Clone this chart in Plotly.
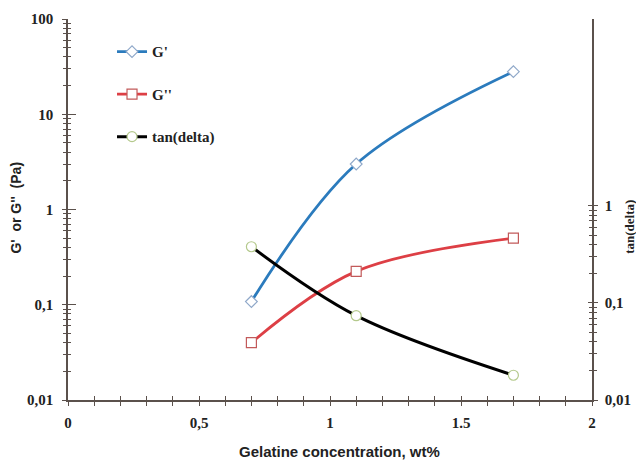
import plotly.graph_objects as go

conc = [0.7, 1.1, 1.7]
g_storage = [0.108, 3.0, 28.0]
g_loss = [0.040, 0.224, 0.50]
tan_delta = [0.38, 0.074, 0.018]

x_tickvals = [0, 0.5, 1, 1.5, 2]
x_ticktext = ["0", "0,5", "1", "1.5", "2"]
y_tickvals = [0.01, 0.1, 1, 10, 100]
y_ticktext = ["0,01", "0,1", "1", "10", "100"]
y2_tickvals = [0.01, 0.1, 1]
y2_ticktext = ["0,01", "0,1", "1"]

minor_left = [m * 10.0 ** e for e in range(-2, 2) for m in range(2, 10)]
minor_right = [m * 10.0 ** e for e in range(-2, 0) for m in range(2, 10)]

AX = "#5b514c"
serif = dict(family="Liberation Serif", size=15, color="#222", weight="bold")
sans = dict(family="Liberation Sans", size=15, color="#222", weight="bold")

fig = go.Figure()
fig.add_trace(go.Scatter(
    x=conc, y=g_storage, name="G'", mode="lines+markers", line_shape="spline",
    line=dict(color="#2b7bbd", width=2.8), legendgroup="a",
    marker=dict(symbol="diamond", size=9, color="white", line=dict(color="#8fa8c9", width=1.2))))
fig.add_trace(go.Scatter(
    x=conc, y=g_loss, name="G''", mode="lines+markers", line_shape="spline",
    line=dict(color="#dd3f45", width=2.8), legendgroup="b",
    marker=dict(symbol="square", size=10, color="white", line=dict(color="#c25a5a", width=1.2))))
fig.add_trace(go.Scatter(
    x=conc, y=tan_delta, name="tan(delta)", mode="lines+markers", line_shape="spline",
    line=dict(color="black", width=3), yaxis="y2", legendgroup="c",
    marker=dict(symbol="circle", size=10, color="white", line=dict(color="#b4c98c", width=1.2))))
# overlay axes for crossing ticks
fig.add_trace(go.Scatter(x=[], y=[], xaxis="x3", yaxis="y3", showlegend=False))
fig.add_trace(go.Scatter(x=[], y=[], xaxis="x3", yaxis="y4", showlegend=False))

top2 = 1.927
fig.update_layout(
    width=636, height=454,
    margin=dict(l=60, r=52, t=11, b=62),
    paper_bgcolor="white", plot_bgcolor="white",
    showlegend=True,
    legend=dict(x=0.084, y=0.957, xanchor="left", yanchor="top", bgcolor="rgba(0,0,0,0)",
                font=serif, tracegroupgap=20, itemwidth=30),
    xaxis=dict(range=[0, 2], tickvals=x_tickvals, ticktext=x_ticktext, tickfont=serif,
               automargin=False, ticklabelstandoff=4,
               showgrid=False, zeroline=False, showline=True, linecolor=AX, linewidth=1.5,
               ticks="outside", ticklen=4, tickcolor=AX, tickwidth=1.2,
               minor=dict(dtick=0.1, ticks="outside", ticklen=4, tickcolor=AX, tickwidth=1.2, showgrid=False)),
    yaxis=dict(type="log", range=[-2, 2], tickvals=y_tickvals, ticktext=y_ticktext, tickfont=serif,
               automargin=False, ticklabelstandoff=6,
               showgrid=False, zeroline=False, showline=True, linecolor=AX, linewidth=1.5,
               ticks="outside", ticklen=4, tickcolor=AX, tickwidth=1.2,
               minor=dict(tickmode="array", tickvals=minor_left, ticks="outside", ticklen=3,
                          tickcolor=AX, tickwidth=1.2, showgrid=False)),
    yaxis2=dict(type="log", range=[-2, top2], domain=[0, (2 + top2) / 4], overlaying="y", side="right",
                anchor="x", tickvals=y2_tickvals, ticktext=y2_ticktext, tickfont=serif,
                automargin=False, ticklabelstandoff=4,
                showgrid=False, zeroline=False, showline=True, linecolor=AX, linewidth=1.5,
                ticks="outside", ticklen=4, tickcolor=AX, tickwidth=1.2,
                minor=dict(tickmode="array", tickvals=minor_right, ticks="outside", ticklen=3,
                           tickcolor=AX, tickwidth=1.2, showgrid=False)),
    xaxis3=dict(range=[0, 2], overlaying="x", anchor="y3", showticklabels=False, showgrid=False,
                automargin=False,
                zeroline=False, showline=False, tickvals=x_tickvals, ticks="inside", ticklen=4,
                tickcolor=AX, tickwidth=1.2,
                minor=dict(dtick=0.1, ticks="inside", ticklen=4, tickcolor=AX, tickwidth=1.2, showgrid=False)),
    yaxis3=dict(type="log", range=[-2, 2], overlaying="y", anchor="x3", side="left",
                automargin=False,
                showticklabels=False, showgrid=False, zeroline=False, showline=False,
                tickvals=y_tickvals, ticks="inside", ticklen=8, tickcolor=AX, tickwidth=1.2,
                minor=dict(tickmode="array", tickvals=minor_left, ticks="inside", ticklen=3,
                           tickcolor=AX, tickwidth=1.2, showgrid=False)),
    yaxis4=dict(type="log", range=[-2, top2], domain=[0, (2 + top2) / 4], overlaying="y", anchor="x3",
                automargin=False,
                side="right", showticklabels=False, showgrid=False, zeroline=False, showline=False,
                tickvals=y2_tickvals + [10 ** top2], ticks="inside", ticklen=4, tickcolor=AX, tickwidth=1.2,
                minor=dict(tickmode="array", tickvals=minor_right, ticks="inside", ticklen=3,
                           tickcolor=AX, tickwidth=1.2, showgrid=False)),
    annotations=[
        dict(text="Gelatine concentration, wt%", xref="paper", yref="paper", x=0.519, y=-0.136,
             xanchor="center", yanchor="middle", showarrow=False, font=sans),
        dict(text="G'  or G''  (Pa)", xref="paper", yref="paper", x=-0.0985, y=0.506,
             xanchor="center", yanchor="middle", showarrow=False, textangle=-90,
             font=dict(family="Liberation Sans", size=14, color="#222", weight="bold")),
        dict(text="tan(delta)", xref="paper", yref="paper", x=1.071, y=0.455,
             xanchor="center", yanchor="middle", showarrow=False, textangle=-90,
             font=dict(family="Liberation Serif", size=13, color="#222", weight="bold")),
    ],
)

fig.write_html("out.html")
